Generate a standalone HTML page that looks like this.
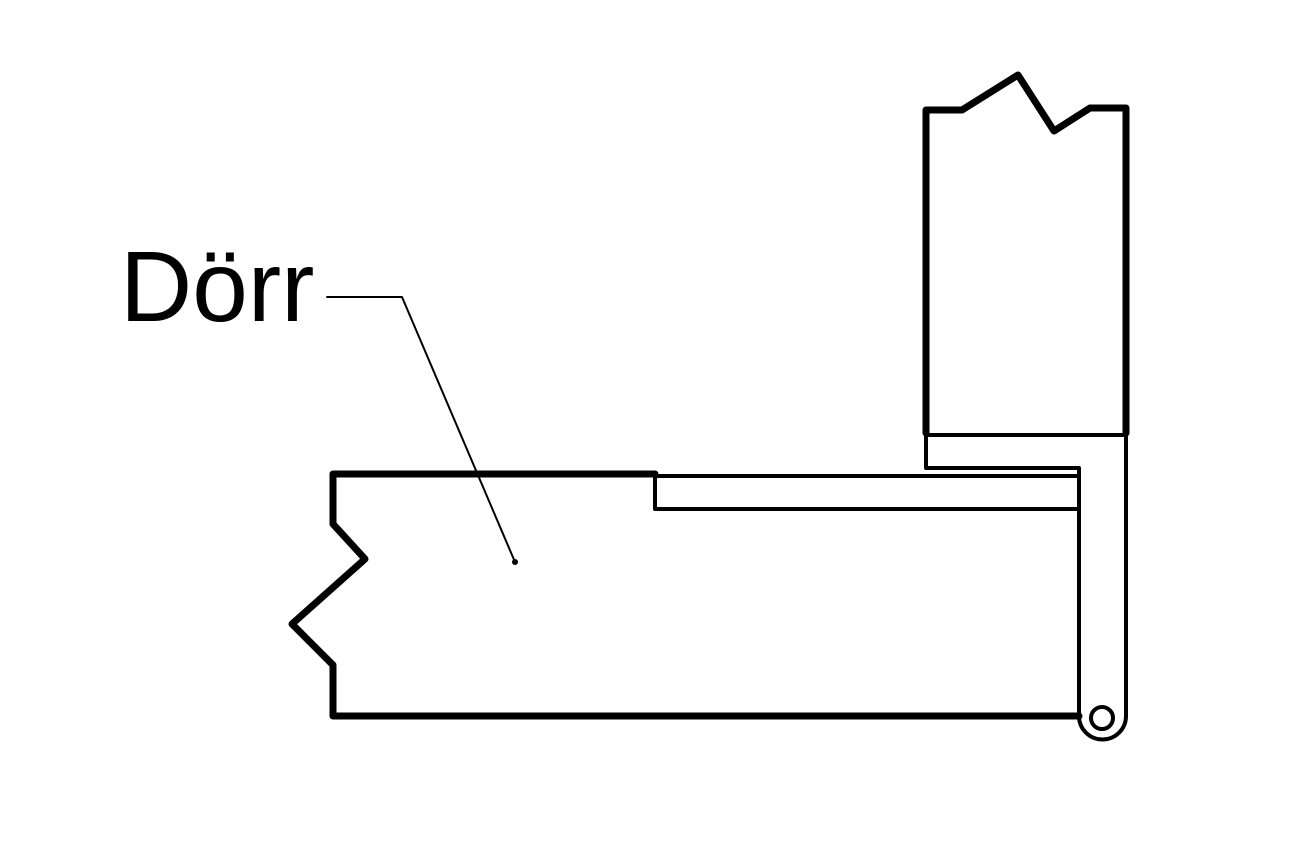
<!DOCTYPE html>
<html><head><meta charset="utf-8"><style>html,body{margin:0;padding:0;background:#fff}svg{display:block}</style></head>
<body>
<svg width="1302" height="852" viewBox="0 0 1302 852" xmlns="http://www.w3.org/2000/svg">
<g fill="none" stroke="#000" stroke-linejoin="round" stroke-linecap="round">
<!-- frame -->
<polyline points="926,433 926,110 962,110 1018,75 1054,131 1090,108 1126,108 1126,433" stroke-width="7"/>
<line x1="926" y1="435" x2="1126" y2="435" stroke-width="4"/>
<!-- hinge leaf -->
<polyline points="926,435 926,468 1079,468 1079,716" stroke-width="4"/>
<path d="M1126,435 L1126,716 A23.5,23.5 0 0 1 1079,716" stroke-width="4"/>
<circle cx="1102" cy="718" r="11" stroke-width="4"/>
<!-- door -->
<polyline points="655,474 333,474 333,524 365,559 292,624 333,665 333,716 1079,716" stroke-width="7"/>
<polyline points="655,476 1079,476" stroke-width="4"/>
<polyline points="655,474 655,509 1079,509" stroke-width="4"/>
<!-- leader -->
<polyline points="327,297 402,297 515,562" stroke-width="2"/>
</g>
<circle cx="515" cy="562" r="3" fill="#000"/>
<text x="120" y="321" font-family="Liberation Sans, sans-serif" font-size="100" fill="#000">Dörr</text>
</svg>
</body></html>
